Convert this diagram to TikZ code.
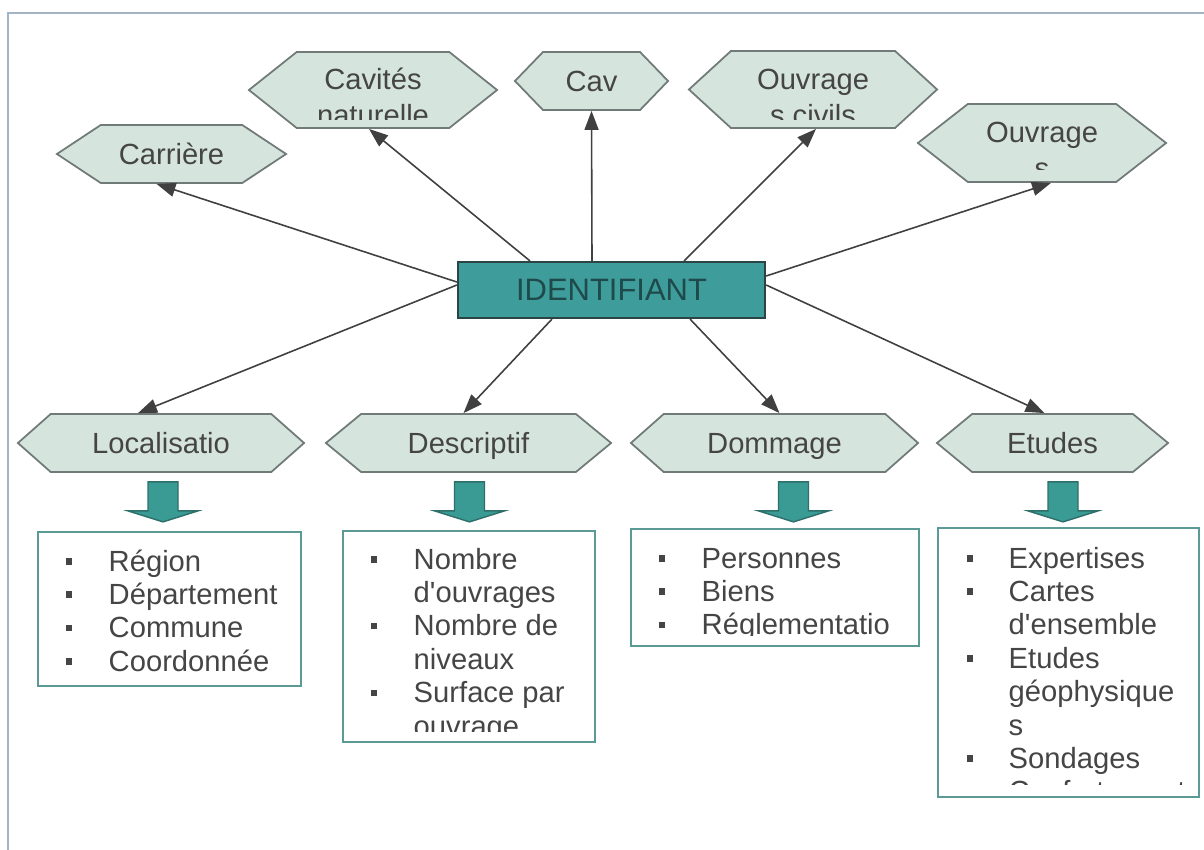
\documentclass[tikz,border=0pt]{standalone}
\usepackage{fontspec}
\setmainfont{Liberation Sans}
\usetikzlibrary{shapes.symbols,arrows.meta,calc}

\definecolor{hexfill}{HTML}{D6E4DE}
\definecolor{hexline}{HTML}{707A78}
\definecolor{identfill}{HTML}{3E9C9A}
\definecolor{identline}{HTML}{2B4444}
\definecolor{identtext}{HTML}{1E4A4B}
\definecolor{dropfill}{HTML}{3A9A94}
\definecolor{dropline}{HTML}{2E6F6A}
\definecolor{boxline}{HTML}{5C9A96}
\definecolor{framecol}{HTML}{A3B5C5}
\definecolor{txtcol}{HTML}{454545}
\definecolor{linkcol}{HTML}{404040}

\newcommand{\bul}{\textcolor{txtcol}{\rule[0.065cm]{0.065cm}{0.065cm}}}

\tikzset{
  hexa/.style={signal, signal to=east and west, draw=hexline, fill=hexfill,
    line width=0.5pt, inner sep=0pt, text=txtcol, text height=0.8em, text depth=0.2em,
    font=\fontsize{8.3}{10}\selectfont},
  twoline/.style={anchor=base, inner sep=0pt, text=txtcol,
    font=\fontsize{8.3}{10}\selectfont},
  listbox/.style={draw=boxline, line width=0.6pt, inner sep=0pt},
  listtext/.style={anchor=base west, inner sep=0pt, text=txtcol,
    font=\fontsize{8.3}{9.5}\selectfont},
  link/.style={draw=linkcol, line width=0.45pt,
    -{Triangle[length=0.19cm,width=0.14cm]}},
  drop/.style={fill=dropfill, draw=dropline, line width=0.4pt}
}

\begin{document}
\begin{tikzpicture}[x=0.01cm, y=-0.01cm]
  \useasboundingbox (0,0) rectangle (1204,849);
  \clip (0,0) rectangle (1204,849);
  \draw[framecol, line width=0.7pt] (8,13) rectangle (1230,870);

  % centre
  \node[draw=identline, fill=identfill, line width=0.6pt, inner sep=0pt,
    minimum width=3.07cm, minimum height=0.56cm, text=identtext,
    font=\fontsize{8.8}{10}\selectfont] (ident) at (611.5,290) {IDENTIFIANT};

  % upper row
  \node[hexa, minimum width=2.29cm, minimum height=0.58cm, signal pointer angle=67] (carr) at (171.5,154) {Carrière};
  \node[hexa, minimum width=2.48cm, minimum height=0.76cm, signal pointer angle=77] (cavnat) at (373,90) {};
  \node[hexa, minimum width=1.53cm, minimum height=0.58cm, signal pointer angle=92] (cav) at (591.5,81) {Cav};
  \node[hexa, minimum width=2.48cm, minimum height=0.77cm, signal pointer angle=85] (ouvciv) at (813,89.5) {};
  \node[hexa, minimum width=2.48cm, minimum height=0.78cm, signal pointer angle=76] (ouvr) at (1042,143) {};

  \begin{scope}
    \clip ($(cavnat.center)+(-130,-40)$) rectangle ($(cavnat.center)+(130,30)$);
    \node[twoline] (cavnattxt) at (cavnat.center) {\begin{tabular}[t]{@{}c@{}}Cavités\\naturelle\end{tabular}};
  \end{scope}
  \begin{scope}
    \clip ($(ouvciv.center)+(-130,-40)$) rectangle ($(ouvciv.center)+(130,30)$);
    \node[twoline] (ouvcivtxt) at ($(ouvciv.center)+(0,0.5)$) {\begin{tabular}[t]{@{}c@{}}Ouvrage\\s civils\end{tabular}};
  \end{scope}
  \begin{scope}
    \clip ($(ouvr.center)+(-130,-40)$) rectangle ($(ouvr.center)+(130,27)$);
    \node[twoline] (ouvrtxt) at (ouvr.center) {\begin{tabular}[t]{@{}c@{}}Ouvrage\\s\end{tabular}};
  \end{scope}

  % lower row
  \node[hexa, minimum width=2.86cm, minimum height=0.58cm, signal pointer angle=83] (loc) at (161,443) {Localisatio};
  \node[hexa, minimum width=2.85cm, minimum height=0.58cm, signal pointer angle=79] (desc) at (468.5,443) {Descriptif};
  \node[hexa, minimum width=2.87cm, minimum height=0.58cm, signal pointer angle=83] (domm) at (774.5,443) {Dommage};
  \node[hexa, minimum width=2.31cm, minimum height=0.58cm, signal pointer angle=79] (etud) at (1052.5,443) {Etudes};

  \draw[link] ($(ident.west)+(0,-8)$) -- ($(carr.south)+(-15,0)$);
  \draw[link] ($(ident.north)+(-81.5,0)$) -- ($(cavnat.south)+(-4,0)$);
  \draw[link] ($(ident.north)+(-19.5,0)$) -- (cav.south);
  \draw[link] ($(ident.north)+(72.5,0)$) -- ($(ouvciv.south)+(3,0)$);
  \draw[link] ($(ident.east)+(0,-14)$) -- ($(ouvr.south)+(9,0)$);
  \draw[link] ($(ident.west)+(0,-5)$) -- ($(loc.north)+(-23,0)$);
  \draw[link] ($(ident.south)+(-59.5,0)$) -- ($(desc.north)+(-5,0)$);
  \draw[link] ($(ident.south)+(78.5,0)$) -- ($(domm.north)+(5,0)$);
  \draw[link] ($(ident.east)+(0,-5)$) -- ($(etud.north)+(-8,0)$);

  \foreach \n/\dx in {loc/2,desc/1,domm/19,etud/10.5}
    \draw[drop] ($(\n.south)+(\dx,9)$) ++(-15,0) -- ++(30,0) -- ++(0,29)
      -- ++(20,0) -- ++(-35,11) -- ++(-35,-11) -- ++(20,0) -- cycle;

  % lists
  \node[listbox, minimum width=2.63cm, minimum height=1.54cm] (locbox) at (169.5,609) {};
  \node[listbox, minimum width=2.52cm, minimum height=2.11cm] (descbox) at (469,636.5) {};
  \node[listbox, minimum width=2.88cm, minimum height=1.17cm] (dommbox) at (775,587.5) {};
  \node[listbox, minimum width=2.61cm, minimum height=2.69cm] (etudbox) at (1068.5,662.5) {};

  \node[listtext] (loclist) at (65,571) {\begin{tabular}[t]{@{}p{0.43cm}@{}l@{}}
    \bul & Région\\ \bul & Département\\ \bul & Commune\\ \bul & Coordonnée
  \end{tabular}};
  \begin{scope}
    \clip (descbox.north west) rectangle ($(descbox.south east)+(0,-12)$);
    \node[listtext] (desclist) at (370,569) {\begin{tabular}[t]{@{}p{0.43cm}@{}l@{}}
      \bul & Nombre\\ & d\textquotesingle ouvrages\\ \bul & Nombre de\\ & niveaux\\
      \bul & Surface par\\ & ouvrage
    \end{tabular}};
  \end{scope}
  \begin{scope}
    \clip (dommbox.north west) rectangle ($(dommbox.south east)+(0,-12)$);
    \node[listtext] (dommlist) at (658,568) {\begin{tabular}[t]{@{}p{0.43cm}@{}l@{}}
      \bul & Personnes\\ \bul & Biens\\ \bul & Réglementatio
    \end{tabular}};
  \end{scope}
  \begin{scope}
    \clip (etudbox.north west) rectangle ($(etudbox.south east)+(0,-14)$);
    \node[listtext] (etudlist) at (966,568) {\begin{tabular}[t]{@{}p{0.42cm}@{}l@{}}
      \bul & Expertises\\ \bul & Cartes\\ & d\textquotesingle ensemble\\ \bul & Etudes\\
      & géophysique\\ & s\\ \bul & Sondages\\ \bul & Confortement
    \end{tabular}};
  \end{scope}
\end{tikzpicture}
\end{document}
